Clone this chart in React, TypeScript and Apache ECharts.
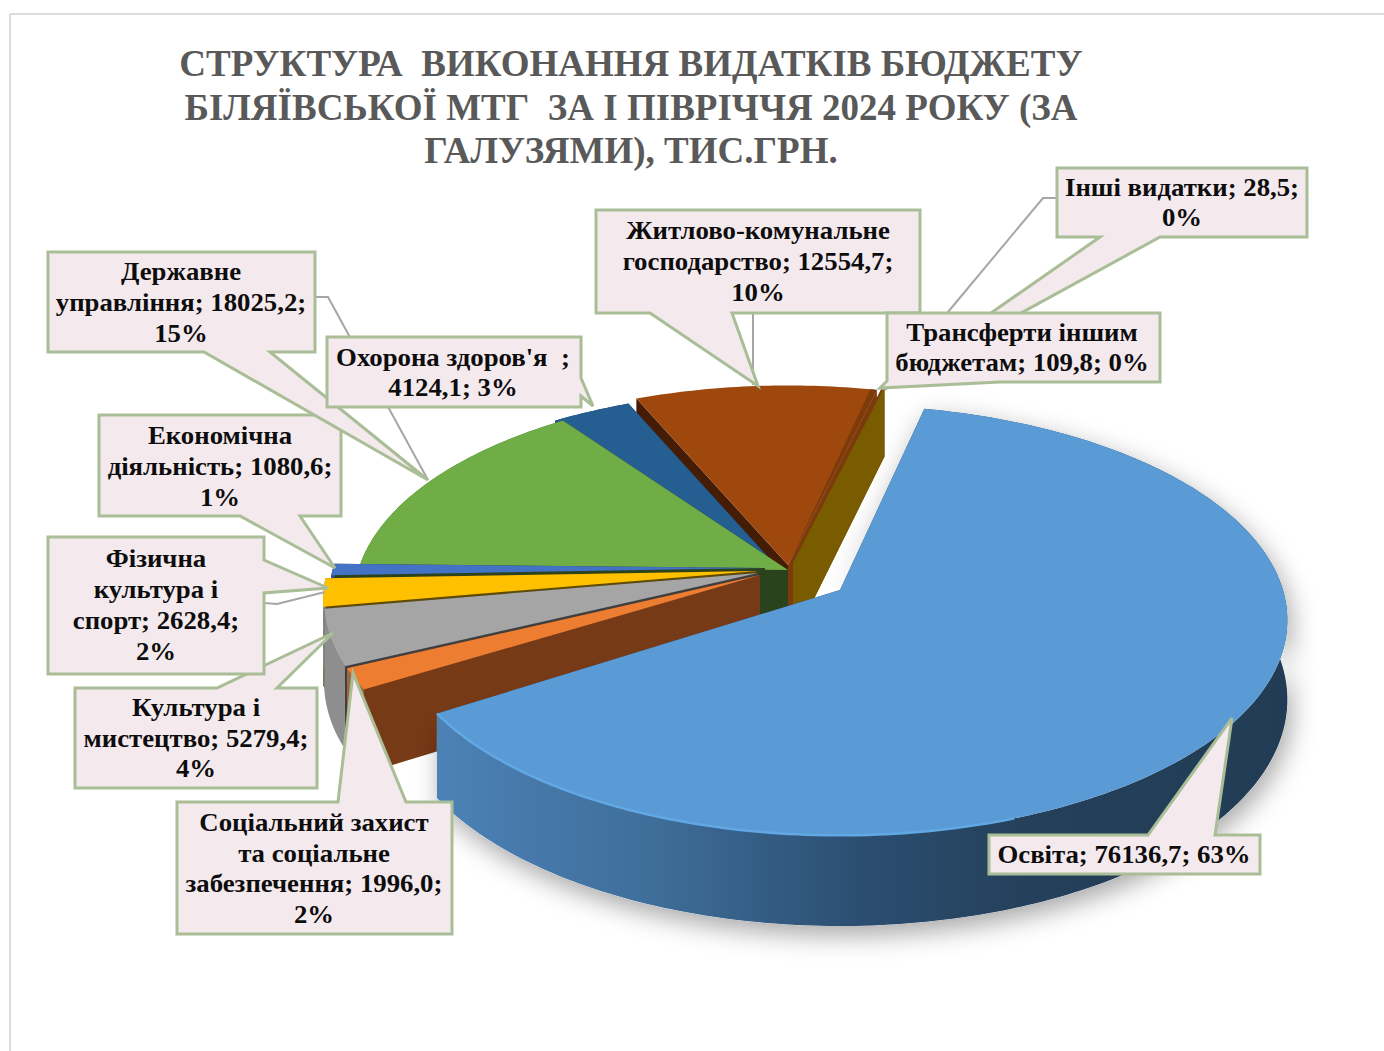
import React, { useEffect, useRef } from "react";
import * as echarts from "echarts";

const titleLines = [
  "СТРУКТУРА  ВИКОНАННЯ ВИДАТКІВ БЮДЖЕТУ",
  "БІЛЯЇВСЬКОЇ МТГ  ЗА І ПІВРІЧЧЯ 2024 РОКУ (ЗА",
  "ГАЛУЗЯМИ), ТИС.ГРН.",
];
const categories = [
  "Освіта",
  "Соціальний захист\nта соціальне\nзабезпечення",
  "Культура і\nмистецтво",
  "Фізична\nкультура і\nспорт",
  "Економічна\nдіяльність",
  "Державне\nуправління",
  "Охорона здоров'я  ",
  "Житлово-комунальне\nгосподарство",
  "Трансферти іншим\nбюджетам",
  "Інші видатки",
];
const values = [76136.7, 1996.0, 5279.4, 2628.4, 1080.6, 18025.2, 4124.1, 12554.7, 109.8, 28.5];
const percents = [63, 2, 4, 2, 1, 15, 3, 10, 0, 0];

// styles
const topColors = ["#5B9BD5", "#ED7D31", "#A5A5A5", "#FFC000", "#4472C4", "#70AD47", "#255E91", "#9E480E", "#7D3A0B", "#7A5C00"];
const leftWallColors = ["#24405A", "#773A17", "#3F3F3F", "#5E4A00", "#2B431C", "#2B431C", "#163A5A", "#451C05", "#7D3A0B", "#7A5C00"];
const rimColors = ["#24405A", "#9A6A45", "#8E8E8E", "#8E8E8E", "#2F4F8A", "#4A7A30", "#163A5A", "#451C05", "#7D3A0B", "#7A5C00"];
const rightWallColors = ["#24405A", "#773A17", "#3F3F3F", "#5E4A00", "#2B431C", "#2B431C", "#163A5A", "#7D3A0B", "#7D3A0B", "#7A5C00"];

// layout of the exploded, tilted pie
const startAngle = 14;
const RX = 443;
const RY = 211;
const PERSPECTIVE = 0.14;
const DEPTH = 78;
const apexes = [
  [840, 590], [760, 575], [758, 573], [757, 571], [765, 568],
  [788, 570], [780, 570], [788, 565], [793, 563], [793, 563],
];
const radiusScale = [1, 0.97, 0.97, 0.97, 0.975, 0.97, 0.97, 0.97, 0.97, 0.97];
const angleNudge = [-1.5, 0, 0, 0, 0, 0, 0, 0, 0, 0];
const drawOrder = [7, 8, 9, 6, 5, 4, 3, 2, 1, 0];

const total = values.reduce((a, b) => a + b, 0);
const starts: number[] = [];
values.reduce((acc, v, i) => {
  starts[i] = acc + angleNudge[i];
  return acc + (v / total) * 360;
}, startAngle);

function project(i: number, deg: number, down = 0): number[] {
  const a = (deg * Math.PI) / 180;
  const X = Math.sin(a);
  const Y = -Math.cos(a);
  const w = 1 - PERSPECTIVE * Y;
  const s = radiusScale[i];
  return [apexes[i][0] + (RX * s * X) / w, apexes[i][1] + (RY * s * Y) / w + (down * DEPTH) / w];
}
function arc(i: number, from: number, to: number, down = 0): number[][] {
  const n = Math.max(2, Math.ceil(Math.abs(to - from)));
  const out: number[][] = [];
  for (let k = 0; k <= n; k++) out.push(project(i, from + ((to - from) * k) / n, down));
  return out;
}

const blueWallFill = {
  type: "linear", x: 0, y: 0, x2: 1, y2: 0,
  colorStops: [
    { offset: 0, color: "#4C82B6" },
    { offset: 0.25, color: "#3F6E9A" },
    { offset: 0.5, color: "#2B4E70" },
    { offset: 0.7, color: "#24405A" },
    { offset: 1, color: "#223C55" },
  ],
};

function renderSlice(_params: any, api: any) {
  const i = api.value(0);
  const a0 = starts[i];
  const a1 = a0 + (api.value(1) / total) * 360;
  const ax = apexes[i];
  const apexTop = ax;
  const apexBottom = [ax[0], ax[1] + DEPTH];
  const poly = (points: number[][], fill: any, extra: any = {}) => ({
    type: "polygon",
    shape: { points },
    style: { fill, ...extra },
  });
  const children: any[] = [];
  if (i === 0) {
    const outline = [apexTop, ...arc(i, a0, a1), ...arc(i, a1, a0, 1)];
    children.push(
      poly(outline, "#ffffff", { shadowBlur: 26, shadowColor: "rgba(0,0,0,0.35)", shadowOffsetY: 9, shadowOffsetX: 4 })
    );
  }
  children.push(poly([apexTop, project(i, a1), project(i, a1, 1), apexBottom], rightWallColors[i]));
  children.push(poly([apexTop, project(i, a0), project(i, a0, 1), apexBottom], leftWallColors[i]));
  if (i !== 7) {
    children.push(poly([...arc(i, a0, a1), ...arc(i, a1, a0, 1)], i === 0 ? blueWallFill : rimColors[i]));
  }
  children.push(poly([apexTop, ...arc(i, a0, a1)], topColors[i]));
  if (i === 7) {
    children.push(poly([apexTop, ...arc(i, a1 - 1, a1)], "#7D3A0B"));
  }
  if (i === 0) {
    children.push({
      type: "polyline",
      shape: { points: arc(i, 160, a1) },
      style: { fill: "none", stroke: "#62A8E4", lineWidth: 2.5 },
    });
  }
  return { type: "group", children };
}

type Callout = { index: number; cx: number; ys: number[]; outline: number[][] };

const callouts: Callout[] = [
  { index: 4, cx: 220, ys: [436, 467, 498], outline: [[99, 415], [341, 415], [341, 516], [300, 516], [335, 568], [240, 516], [99, 516]] },
  { index: 5, cx: 181, ys: [272, 303, 334], outline: [[48, 252], [315, 252], [315, 352], [270, 352], [428, 480], [204, 352], [48, 352]] },
  { index: 6, cx: 453, ys: [358, 388], outline: [[327, 337], [581, 337], [581, 378], [593, 406], [581, 396], [581, 407], [327, 407]] },
  { index: 2, cx: 196, ys: [708, 739, 769], outline: [[75, 688], [217, 688], [333, 633], [277, 688], [317, 688], [317, 788], [75, 788]] },
  { index: 3, cx: 156, ys: [559, 590, 621, 652], outline: [[48, 537], [264, 537], [264, 560], [328, 588], [264, 593], [264, 674], [48, 674]] },
  { index: 1, cx: 314, ys: [823, 854, 884, 915], outline: [[177, 802], [338, 802], [353, 673], [406, 802], [452, 802], [452, 934], [177, 934]] },
  { index: 7, cx: 758, ys: [231, 262, 293], outline: [[596, 210], [920, 210], [920, 313], [732, 313], [758, 386], [650, 313], [596, 313]] },
  { index: 9, cx: 1182, ys: [188, 218], outline: [[1057, 168], [1307, 168], [1307, 237], [1160, 237], [882, 389], [1100, 237], [1057, 237]] },
  { index: 8, cx: 1022, ys: [333, 363], outline: [[887, 313], [1160, 313], [1160, 382], [1000, 382], [880, 388], [887, 381]] },
  { index: 0, cx: 1124, ys: [855], outline: [[989, 835], [1148, 835], [1232, 718], [1215, 835], [1260, 835], [1260, 874], [989, 874]] },
];
const leaders = [
  [[316, 297], [328, 297], [428, 480]],
  [[264, 603], [277, 604], [325, 592]],
  [[753, 313], [753, 385]],
  [[1057, 198], [1043, 198], [948, 312], [885, 390]],
];
const breakBeforeValue = [false, false, false, false, false, false, true, false, false, false];
const breakAfterValue = [false, true, true, true, true, true, false, true, false, true];

function labelLines(i: number): string[] {
  const value = values[i].toFixed(1).replace(".", ",");
  const text = `${categories[i]};${breakBeforeValue[i] ? "\n" : " "}${value};${breakAfterValue[i] ? "\n" : " "}${percents[i]}%`;
  return text.split("\n");
}

const labelFont = "bold 26px 'Liberation Serif'";

function buildGraphics() {
  const els: any[] = [
    { type: "line", z: 1, shape: { x1: 10, y1: 14, x2: 1384, y2: 14 }, style: { stroke: "#DCDCDC", lineWidth: 2 } },
    { type: "line", z: 1, shape: { x1: 10, y1: 14, x2: 10, y2: 1051 }, style: { stroke: "#DCDCDC", lineWidth: 2 } },
  ];
  leaders.forEach((points) => {
    els.push({ type: "polyline", z: 10, shape: { points }, style: { fill: "none", stroke: "#A6A6A6", lineWidth: 2 } });
  });
  callouts.forEach((c, n) => {
    const z = 20 + n;
    els.push({ type: "polygon", z, shape: { points: c.outline }, style: { fill: "#F4E9ED", stroke: "#A9BD96", lineWidth: 3 } });
    labelLines(c.index).forEach((line, k) => {
      els.push({
        type: "text", z, x: c.cx, y: c.ys[k] - 1, scaleX: 1.03,
        style: { text: line, font: labelFont, fill: "#0D0D0D", textAlign: "center", textVerticalAlign: "middle" },
      });
    });
  });
  return els;
}

export default function App() {
  const ref = useRef<HTMLDivElement>(null);
  useEffect(() => {
    document.body.style.margin = "0";
    const chart = echarts.init(ref.current!, undefined, { renderer: "svg" });
    chart.setOption({
      animation: false,
      backgroundColor: "#FFFFFF",
      title: {
        text: titleLines.join("\n"),
        left: 626,
        top: 37,
        textAlign: "center",
        textStyle: {
          fontFamily: "Liberation Serif",
          fontWeight: "bold",
          fontSize: 37,
          lineHeight: 43.5,
          color: "#595959",
        },
      },
      series: [
        {
          type: "custom",
          coordinateSystem: "none",
          silent: true,
          z: 2,
          renderItem: renderSlice,
          data: drawOrder.map((i) => [i, values[i]]),
        },
      ],
      graphic: { elements: buildGraphics() },
    });
    return () => chart.dispose();
  }, []);
  return <div ref={ref} style={{ width: 1384, height: 1051, position: "fixed", left: 0, top: 0 }} />;
}
